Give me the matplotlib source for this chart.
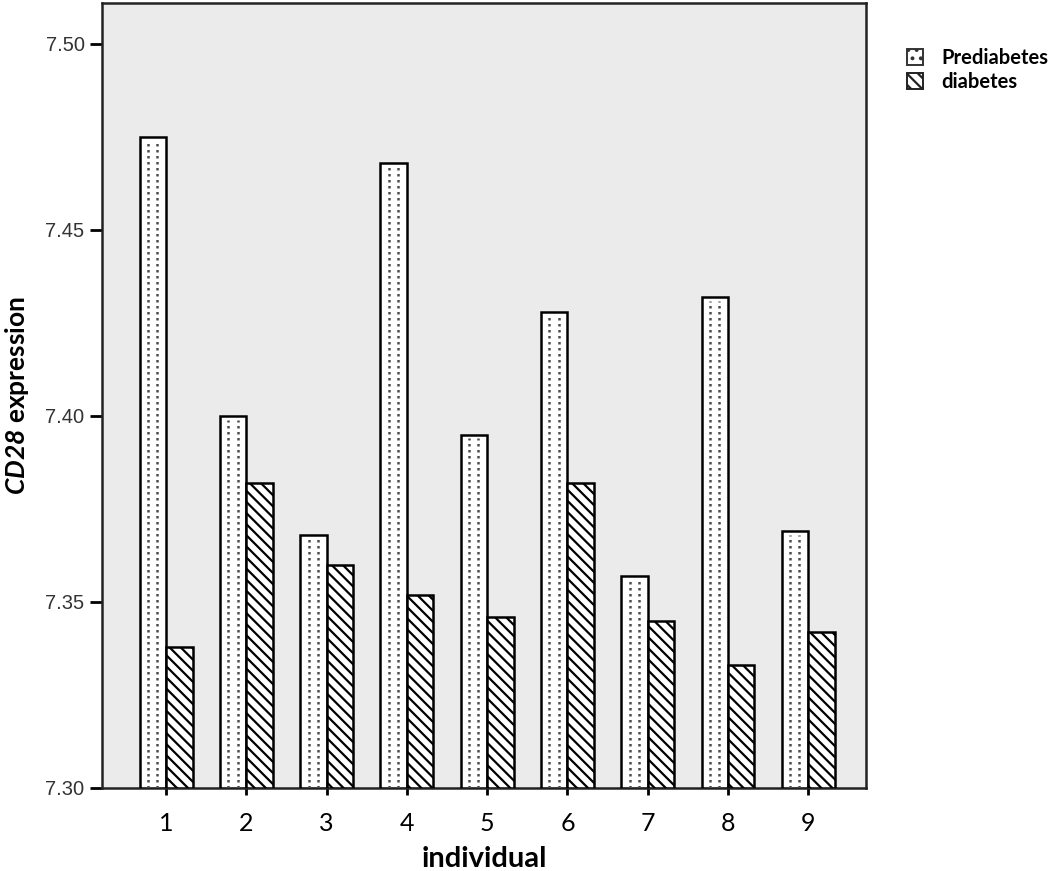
import numpy as np
import matplotlib
matplotlib.use('Agg')
import matplotlib.pyplot as plt
from matplotlib.patches import Patch

individuals = [1, 2, 3, 4, 5, 6, 7, 8, 9]
prediabetes = [7.475, 7.400, 7.368, 7.468, 7.395, 7.428, 7.357, 7.432, 7.369]
diabetes = [7.338, 7.382, 7.360, 7.352, 7.346, 7.382, 7.345, 7.333, 7.342]
yticks = [7.30, 7.35, 7.40, 7.45, 7.50]

# italic bold for the gene name (digits included)
plt.rcParams['mathtext.fontset'] = 'custom'
plt.rcParams['mathtext.it'] = 'Lato:italic:bold'
plt.rcParams['mathtext.rm'] = 'Lato:italic:bold'
plt.rcParams['hatch.linewidth'] = 1.6

fig = plt.figure(figsize=(10.5, 8.71), dpi=100)
ax = fig.add_axes([0.0971, 0.0953, 0.7277, 0.9013])
ax.set_facecolor('#ebebeb')

x = np.array(individuals)
w = 0.33
base = 7.30
pre = np.array(prediabetes) - base
dia = np.array(diabetes) - base

ax.bar(x - w, pre, w, bottom=base, align='edge', color='white', edgecolor='black',
       linewidth=1.8, zorder=3)
ax.bar(x, dia, w, bottom=base, align='edge', color='white', edgecolor='black',
       linewidth=1.8, hatch='\\\\\\', zorder=3)

# dotted columns inside prediabetes bars
for off in [-0.225, -0.11]:
    ax.vlines(x + off, base, np.array(prediabetes) - 0.001, colors='#4d4d4d',
              linestyles=(0, (1, 1.4)), linewidth=1.8, zorder=4)

ax.set_xlim(0.2, 9.72)
ax.set_ylim(7.30, 7.511)
ax.set_yticks(yticks)
ax.set_yticklabels(['%.2f' % t for t in yticks], fontsize=14.5, family='Liberation Sans',
                   color='#333333')
ax.set_xticks(x)
ax.set_xticklabels([str(i) for i in individuals], fontsize=18, family='Lato')
ax.tick_params(axis='y', direction='out', length=9, width=2)
ax.tick_params(axis='x', direction='inout', length=10, width=2, pad=12)
for s in ax.spines.values():
    s.set_linewidth(1.8)
    s.set_color('#222222')

fig.text(0.461, 0.005, 'individual', fontsize=21, fontweight='bold', family='Lato',
         ha='center', va='baseline')
fig.text(0.003, 0.546, r'$\mathit{CD28}$ expression', fontsize=19, fontweight='bold',
         family='Lato', rotation=90, ha='left', va='center')

handles = [Patch(facecolor='white', edgecolor='#333333', hatch='..', linewidth=1.4),
           Patch(facecolor='white', edgecolor='#222222', hatch='\\\\\\', linewidth=1.4)]
fig.legend(handles, ['Prediabetes', 'diabetes'], loc='upper left',
           bbox_to_anchor=(0.864, 0.945), frameon=False, handlelength=0.8,
           handleheight=0.8, handletextpad=0.9, labelspacing=0.2, borderpad=0,
           borderaxespad=0,
           prop={'family': 'Lato', 'weight': 'bold', 'size': 14.5})

fig.savefig('out.png', dpi=100)
